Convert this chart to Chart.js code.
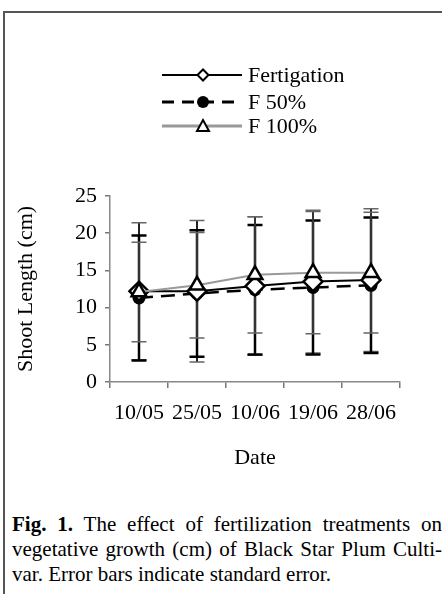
<!DOCTYPE html>
<html>
<head>
<meta charset="utf-8">
<script src="https://cdn.jsdelivr.net/npm/chart.js@4.4.1/dist/chart.umd.min.js"></script>
<style>
  html, body { margin: 0; padding: 0; background: #fff; }
  body { width: 442px; height: 594px; position: relative; overflow: hidden; font-family: "Liberation Serif", "Times New Roman", serif; }
  #frame { position: absolute; left: 3px; top: 11px; width: 460px; height: 600px; border-top: 2px solid #555; border-left: 2px solid #555; }
  #c { position: absolute; left: 0; top: 0; }
  #cap { position: absolute; left: 12px; top: 512px; width: 430px; font-size: 21px; line-height: 25px; color: #000; }
  #cap .j { text-align: justify; text-align-last: justify; }
</style>
</head>
<body>
<div id="frame"></div>
<canvas id="c" width="442" height="472"></canvas>
<div id="cap">
  <div class="j"><b>Fig. 1.</b> The effect of fertilization treatments on</div>
  <div class="j">vegetative growth (cm) of Black Star Plum Culti-</div>
  <div>var. Error bars indicate standard error.</div>
</div>
<script>
const dates = ['10/05', '25/05', '10/06', '19/06', '28/06'];
const seriesNames = ['Fertigation', 'F 50%', 'F 100%'];
const fertMean = [12.2, 12.2, 12.9, 13.5, 13.7];
const fertSE   = [9.2, 9.5, 9.3, 9.6, 9.6];
const f50Mean  = [11.3, 11.9, 12.4, 12.7, 13.0];
const f50SE    = [8.4, 8.5, 8.7, 9.0, 9.1];
const f100Mean = [12.1, 13.0, 14.4, 14.7, 14.7];
const f100SE   = [6.7, 7.1, 7.8, 8.2, 8.1];
const yTicks   = [0, 5, 10, 15, 20, 25];

const FONT = '"Liberation Serif", "Times New Roman", serif';

const errorBars = {
  id: 'errorBars',
  beforeDatasetsDraw(chart) {
    const ctx = chart.ctx;
    const y = chart.scales.y;
    chart.data.datasets.forEach((ds, i) => {
      const meta = chart.getDatasetMeta(i);
      ds.se.forEach((se, k) => {
        const pt = meta.data[k];
        const x = pt.x;
        const yt = y.getPixelForValue(ds.data[k] + se);
        const yb = y.getPixelForValue(ds.data[k] - se);
        ctx.save();
        ctx.strokeStyle = ds.ebColor;
        ctx.lineWidth = ds.ebStem;
        ctx.beginPath();
        ctx.moveTo(x, yt); ctx.lineTo(x, yb);
        ctx.stroke();
        ctx.lineWidth = ds.ebCap;
        ctx.strokeStyle = ds.ebCapColor;
        ctx.beginPath();
        ctx.moveTo(x - 7.5, yt); ctx.lineTo(x + 7.5, yt);
        ctx.moveTo(x - 7.5, yb); ctx.lineTo(x + 7.5, yb);
        ctx.stroke();
        ctx.restore();
      });
    });
  }
};

const customLegend = {
  id: 'customLegend',
  afterDraw(chart) {
    const ctx = chart.ctx;
    const rows = [75, 102, 126];
    const styles = [
      { color: '#000', width: 2, dash: [], marker: 'diamond' },
      { color: '#000', width: 3, dash: [12, 8], marker: 'circle' },
      { color: '#999', width: 3, dash: [], marker: 'triangle' }
    ];
    ctx.save();
    styles.forEach((s, i) => {
      const yy = rows[i];
      ctx.strokeStyle = s.color;
      ctx.lineWidth = s.width;
      ctx.setLineDash(s.dash);
      ctx.beginPath();
      ctx.moveTo(162, yy); ctx.lineTo(242, yy);
      ctx.stroke();
      ctx.setLineDash([]);
      const mx = 203;
      ctx.lineWidth = 2;
      ctx.strokeStyle = '#000';
      ctx.beginPath();
      if (s.marker === 'diamond') {
        ctx.moveTo(mx - 5.5, yy); ctx.lineTo(mx, yy - 5.5); ctx.lineTo(mx + 5.5, yy); ctx.lineTo(mx, yy + 5.5); ctx.closePath();
        ctx.fillStyle = '#fff'; ctx.fill(); ctx.stroke();
      } else if (s.marker === 'circle') {
        ctx.arc(mx, yy, 6, 0, Math.PI * 2);
        ctx.fillStyle = '#000'; ctx.fill();
      } else {
        ctx.moveTo(mx, yy - 6); ctx.lineTo(mx + 6, yy + 5); ctx.lineTo(mx - 6, yy + 5); ctx.closePath();
        ctx.fillStyle = '#fff'; ctx.fill(); ctx.stroke();
      }
      ctx.fillStyle = '#000';
      ctx.font = '22px ' + FONT;
      ctx.textBaseline = 'middle';
      ctx.textAlign = 'left';
      ctx.fillText(seriesNames[i], 248, yy + 1);
    });
    ctx.restore();
  }
};

new Chart(document.getElementById('c'), {
  type: 'line',
  data: {
    labels: dates,
    datasets: [
      {
        label: seriesNames[0], data: fertMean, se: fertSE, order: 1,
        borderColor: '#000', borderWidth: 2,
        pointStyle: 'rectRot', pointRadius: 9.5, pointBorderWidth: 2.5,
        pointBackgroundColor: '#fff', pointBorderColor: '#000',
        ebColor: '#222', ebStem: 2, ebCap: 1.5, ebCapColor: '#666'
      },
      {
        label: seriesNames[1], data: f50Mean, se: f50SE, order: 2,
        borderColor: '#000', borderWidth: 2.5, borderDash: [14, 8],
        pointStyle: 'circle', pointRadius: 6.5, pointBorderWidth: 0,
        pointBackgroundColor: '#000', pointBorderColor: '#000',
        ebColor: '#000', ebStem: 2.5, ebCap: 2.5, ebCapColor: '#000'
      },
      {
        label: seriesNames[2], data: f100Mean, se: f100SE, order: 0,
        borderColor: '#999', borderWidth: 2,
        pointStyle: 'triangle', pointRadius: 8.5, pointBorderWidth: 2.5,
        pointBackgroundColor: '#fff', pointBorderColor: '#000',
        ebColor: '#333', ebStem: 2, ebCap: 1.5, ebCapColor: '#666'
      }
    ]
  },
  options: {
    responsive: false,
    animation: false,
    devicePixelRatio: 1,
    layout: { padding: { left: 0, right: 42, top: 196, bottom: 0 } },
    plugins: { legend: { display: false }, tooltip: { enabled: false } },
    elements: { line: { tension: 0 } },
    scales: {
      x: {
        offset: true,
        afterFit: s => { s.height = 90; },
        grid: { offset: true, drawOnChartArea: false, drawTicks: true, tickLength: 6, color: '#777', lineWidth: 1.5 },
        border: { color: '#888', width: 1.5 },
        ticks: { color: '#000', font: { family: FONT, size: 22 }, padding: 12, maxRotation: 0, autoSkip: false },
        title: { display: true, text: 'Date', color: '#000', font: { family: FONT, size: 22, lineHeight: 1.2 }, padding: { top: 0, bottom: 1 } }
      },
      y: {
        min: 0, max: 25,
        afterFit: s => { s.width = 110; },
        afterBuildTicks: s => { s.ticks = yTicks.map(v => ({ value: v })); },
        grid: { drawOnChartArea: false, drawTicks: true, tickLength: 5, color: '#777', lineWidth: 1.5 },
        border: { color: '#888', width: 1.5 },
        ticks: { color: '#000', font: { family: FONT, size: 22 }, padding: 8 },
        title: { display: true, text: 'Shoot Length (cm)', color: '#000', font: { family: FONT, size: 22, lineHeight: 1.2 }, padding: { top: 13, bottom: 0 } }
      }
    }
  },
  plugins: [errorBars, customLegend]
});
</script>
</body>
</html>
